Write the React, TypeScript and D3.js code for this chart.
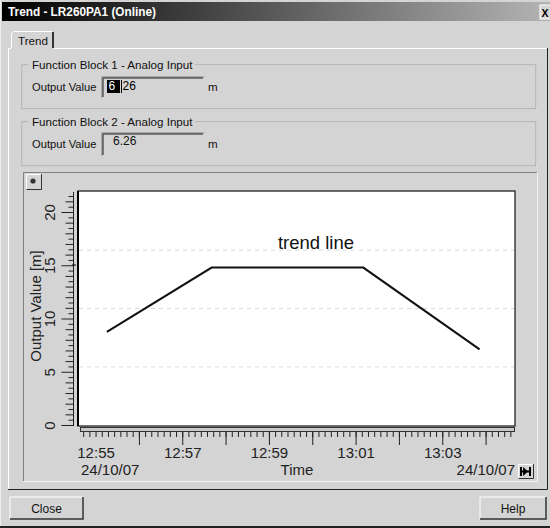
import React from "react";
import * as d3 from "d3";

// ---- data ----
const pointTimes = ["12:55:15", "12:57:40", "13:01:10", "13:03:51"];
const pointValues = [8.0, 13.5, 13.5, 6.5];
const xTickLabels = ["12:55", "12:57", "12:59", "13:01", "13:03"];
const majorMinuteTicks = ["12:56", "12:57", "12:58", "12:59", "13:00", "13:01", "13:02", "13:03", "13:04"];
const yTickLabels = [0, 5, 10, 15, 20];
const gridValues = [5, 10, 15];
const outputValue1 = "6.26";
const outputValue2 = "6.26";
const dateLabel = "24/10/07";

const FONT = "'Liberation Sans', Arial, sans-serif";
const BG = "#d4d4d4";

const parseT = (s: string) => {
  const p = s.split(":").map(Number);
  return new Date(2007, 9, 24, p[0], p[1], p[2] || 0);
};

export default function App() {
  const W = 550, H = 528;
  const plot = { l: 78, r: 515, t: 191, b: 426 };

  const x = d3
    .scaleTime()
    .domain([parseT("12:54:35"), parseT("13:04:40")])
    .range([plot.l, plot.r]);
  const y = d3.scaleLinear().domain([0, 20]).range([425.3, 191.7]);
  const yRuler = d3.scaleLinear().domain([0, 20]).range([425.5, 212.5]);

  const line = d3
    .line<[Date, number]>()
    .x((d) => x(d[0]))
    .y((d) => y(d[1]));
  const pts: [Date, number][] = pointTimes.map((t, i) => [parseT(t), pointValues[i]]);

  const yRulerTicks: number[] = d3.range(0, 22.01, 0.5).filter((v) => yRuler(v) >= 192);
  const minutePx = x(parseT("12:57")) - x(parseT("12:56"));
  const x0 = x(parseT("12:56"));
  const xMinor: number[] = [];
  for (let k = -12; k < 80; k++) {
    const px = x0 + (k * minutePx) / 7;
    if (px >= 80.5 && px <= 514) xMinor.push(px);
  }

  const sunkenBox = (bx: number, by: number, bw: number, bh: number) => (
    <g>
      <rect x={bx} y={by} width={bw} height={bh} fill={BG} stroke="#808080" />
      <path d={`M${bx + 1},${by + bh - 1}V${by + 1}H${bx + bw - 1}`} fill="none" stroke="#222" />
      <path d={`M${bx},${by + bh}H${bx + bw}V${by}`} fill="none" stroke="#fff" />
    </g>
  );
  const raisedBtn = (bx: number, by: number, bw: number, bh: number, label: string) => (
    <g>
      <rect x={bx} y={by} width={bw} height={bh} fill={BG} />
      <path d={`M${bx},${by + bh}V${by}H${bx + bw}`} fill="none" stroke="#fff" />
      <path d={`M${bx},${by + bh}H${bx + bw}V${by}`} fill="none" stroke="#333" strokeWidth={1.5} />
      <text x={bx + bw / 2} y={by + bh / 2 + 4.5} textAnchor="middle" fontSize={12} fontFamily={FONT} fill="#111">
        {label}
      </text>
    </g>
  );
  const groupBox = (gx: number, gy: number, gw: number, gh: number, label: string, lw: number) => (
    <g>
      <rect x={gx + 0.5} y={gy + 0.5} width={gw} height={gh} fill="none" stroke="#fff" />
      <rect x={gx} y={gy} width={gw} height={gh} fill="none" stroke="#a0a0a0" />
      <rect x={gx + 6} y={gy - 7} width={lw} height={14} fill={BG} />
      <text x={gx + 10} y={gy + 4} fontSize={11.6} fontFamily={FONT} fill="#111">
        {label}
      </text>
    </g>
  );

  return (
    <svg width={W} height={H} style={{ position: "fixed", left: 0, top: 0 }} xmlns="http://www.w3.org/2000/svg">
      <defs>
        <linearGradient id="tb" x1="0" x2="1" y1="0" y2="0">
          <stop offset="0" stopColor="#000" />
          <stop offset="1" stopColor="#b4b4b4" />
        </linearGradient>
      </defs>
      <rect x={0} y={0} width={W} height={H} fill={BG} />
      <line x1={0.5} y1={0} x2={0.5} y2={H} stroke="#eee" />
      <line x1={0} y1={H - 1} x2={W} y2={H - 1} stroke="#222" strokeWidth={2} />
      {/* title bar */}
      <rect x={2} y={2} width={W - 2} height={19} fill="url(#tb)" />
      <text x={8} y={16} fontSize={12} fontWeight="bold" fontFamily={FONT} fill="#fff" textLength={148} lengthAdjust="spacingAndGlyphs">
        Trend - LR260PA1 (Online)
      </text>
      <rect x={540} y={5} width={12} height={14} fill={BG} stroke="#fff" />
      <text x={541.5} y={16.5} fontSize={10.5} fontWeight="bold" fontFamily={FONT} fill="#000">X</text>

      {/* tab panel */}
      <path d="M8.5,489V48.5H11" fill="none" stroke="#fff" />
      <path d="M54,48.5H547" fill="none" stroke="#fff" />
      <path d="M547.5,48V489.5H8" fill="none" stroke="#222" />
      <path d="M11.5,48V33.5L13.5,31.5H52" fill="none" stroke="#fff" />
      <path d="M53,32V48" fill="none" stroke="#333" strokeWidth={2} />
      <text x={18} y={45} fontSize={11.6} fontFamily={FONT} fill="#111">Trend</text>

      {/* group boxes */}
      {groupBox(22, 65, 514, 44, "Function Block 1 - Analog Input", 167)}
      {groupBox(22, 122, 514, 44, "Function Block 2 - Analog Input", 167)}
      <text x={32} y={90.5} fontSize={11.2} fontFamily={FONT} fill="#111">Output Value</text>
      {sunkenBox(102, 77, 102, 21)}
      <rect x={107} y={80} width={13} height={13} fill="#000" />
      <text x={108.5} y={90} fontSize={12} fontFamily={FONT} fill="#fff">{outputValue1.slice(0, 1)}</text>
      <line x1={121.5} y1={80} x2={121.5} y2={93} stroke="#000" />
      <text x={122.5} y={90} fontSize={12} fontFamily={FONT} fill="#000">{outputValue1.slice(2)}</text>
      <text x={208} y={90.5} fontSize={11.6} fontFamily={FONT} fill="#111">m</text>

      <text x={32} y={148} fontSize={11.2} fontFamily={FONT} fill="#111">Output Value</text>
      {sunkenBox(102, 133, 102, 23)}
      <text x={113} y={145} fontSize={12} fontFamily={FONT} fill="#111">{outputValue2}</text>
      <text x={208} y={148} fontSize={11.6} fontFamily={FONT} fill="#111">m</text>

      {/* chart panel */}
      <path d="M23.5,481V172.5H537" fill="none" stroke="#808080" />
      <path d="M23.5,481.5H537.5V172" fill="none" stroke="#f4f4f4" />
      <rect x={26} y={174} width={15} height={15} fill={BG} />
      <path d="M26.5,189V174.5H41" fill="none" stroke="#fff" />
      <path d="M26.5,189.5H41.5V174" fill="none" stroke="#333" />
      <circle cx={33} cy={181} r={2.6} fill="#333" />

      {/* plot area */}
      <rect x={plot.l} y={plot.t} width={plot.r - plot.l} height={plot.b - plot.t} fill="#fff" stroke="#111" strokeWidth={1.2} />
      <line x1={plot.l} y1={plot.t} x2={plot.l} y2={plot.b} stroke="#000" strokeWidth={2} />
      {gridValues.map((v) => (
        <line key={v} x1={plot.l + 1} x2={plot.r - 1} y1={y(v)} y2={y(v)} stroke="#d8d8d8" strokeDasharray="4,4" />
      ))}
      <path d={line(pts) || ""} fill="none" stroke="#111" strokeWidth={2} />
      <text x={316} y={249} textAnchor="middle" fontSize={18.5} fontFamily={FONT} fill="#111">trend line</text>

      {/* y ruler */}
      <line x1={73.5} y1={192} x2={73.5} y2={426} stroke="#222" />
      {yRulerTicks.map((v) => {
        const len = v % 5 === 0 ? 12 : v % 1 === 0 ? 8 : 5;
        return <line key={v} x1={73.5 - len} x2={73.5} y1={yRuler(v)} y2={yRuler(v)} stroke="#222" />;
      })}
      <line x1={72} x2={76} y1={265} y2={265} stroke="#000" />
      {yTickLabels.map((v) => (
        <text key={v} transform={`translate(55,${yRuler(v)}) rotate(-90)`} textAnchor="middle" fontSize={15} fontFamily={FONT} fill="#222">
          {v}
        </text>
      ))}
      <text transform="translate(41,306) rotate(-90)" textAnchor="middle" fontSize={15} fontFamily={FONT} fill="#222">
        Output Value [m]
      </text>

      {/* x ruler */}
      <rect x={80.5} y={427.5} width={434} height={4} fill="#c8c8c8" stroke="#333" />
      {xMinor.map((px, i) => (
        <line key={i} x1={px} x2={px} y1={432} y2={437} stroke="#222" />
      ))}
      {majorMinuteTicks.map((t) => (
        <line key={t} x1={x(parseT(t))} x2={x(parseT(t))} y1={432} y2={445} stroke="#222" />
      ))}
      {xTickLabels.map((t) => (
        <text key={t} x={x(parseT(t))} y={458} textAnchor="middle" fontSize={15} fontFamily={FONT} fill="#222">
          {t}
        </text>
      ))}
      <text x={81} y={475} fontSize={15} fontFamily={FONT} fill="#222">{dateLabel}</text>
      <text x={297} y={475} textAnchor="middle" fontSize={15} fontFamily={FONT} fill="#222">Time</text>
      <text x={515} y={475} textAnchor="end" fontSize={15} fontFamily={FONT} fill="#222">{dateLabel}</text>
      <rect x={518} y={464} width={15} height={14} fill={BG} />
      <path d="M518.5,478V464.5H533" fill="none" stroke="#fff" />
      <path d="M518.5,478.5H533.5V464" fill="none" stroke="#333" />
      <path d="M521,467V476M530,467V476M521,471.5H530" stroke="#000" strokeWidth={2} />
      <path d="M523,467L528,471.5L523,476Z" fill="#000" />

      {/* bottom buttons */}
      {raisedBtn(10, 497, 73, 22, "Close")}
      {raisedBtn(480, 497, 66, 22, "Help")}
    </svg>
  );
}
